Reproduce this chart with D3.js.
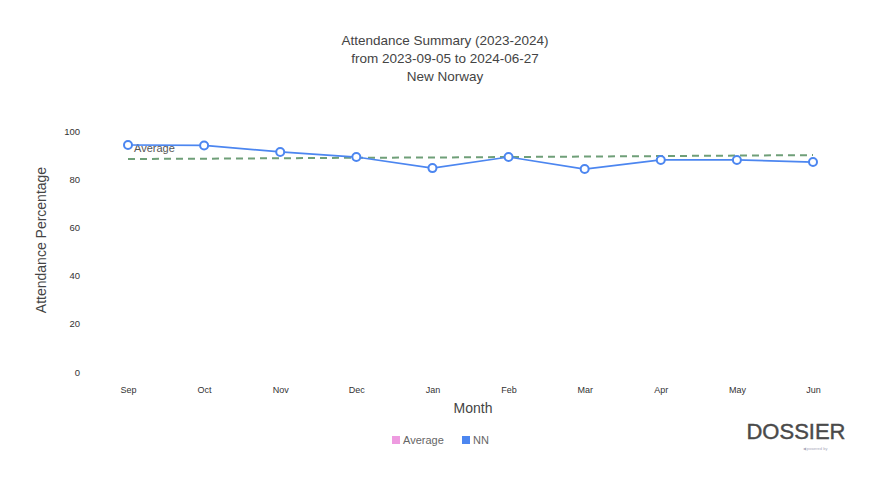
<!DOCTYPE html>
<html><head><meta charset="utf-8">
<script src="https://cdn.jsdelivr.net/npm/d3@7"></script>
<style>body{margin:0;background:#fff;font-family:Arial,"Liberation Sans",sans-serif;}</style>
</head><body><svg id="c" width="889" height="491"></svg>
<script>
const months = ["Sep","Oct","Nov","Dec","Jan","Feb","Mar","Apr","May","Jun"];
const nnValues = [94.2, 94.0, 91.3, 89.2, 84.6, 89.2, 84.2, 88.0, 88.0, 87.1];
const averageValues = [88.4, 88.5, 88.7, 88.9, 89.0, 89.2, 89.4, 89.6, 89.8, 90.0];
const yTicks = [0, 20, 40, 60, 80, 100];
const titleLines = ["Attendance Summary (2023-2024)", "from 2023-09-05 to 2024-06-27", "New Norway"];
const legendItems = [{name:"Average", color:"#ee9be0"}, {name:"NN", color:"#4c86f0"}];

const svg = d3.select("#c");
const x = d3.scalePoint().domain(months).range([128, 813]);
const y = d3.scaleLinear().domain([0, 100]).range([372, 131]);

// title
svg.append("g").selectAll("text").data(titleLines).join("text")
  .attr("x", 445).attr("y", (d,i)=>45 + i*18).attr("text-anchor","middle")
  .attr("font-size", 13.5).attr("fill", "#444").text(d=>d);

// y axis
const ya = svg.append("g").attr("transform","translate(82,0)")
  .call(d3.axisLeft(y).tickValues(yTicks).tickSize(0).tickPadding(2));
ya.select(".domain").remove();
ya.selectAll("text").attr("font-size",9.5).attr("fill","#333").attr("font-family","Arial, Liberation Sans, sans-serif");

// x axis
const xa = svg.append("g").attr("transform","translate(0,387)")
  .call(d3.axisBottom(x).tickSize(0).tickPadding(0));
xa.select(".domain").remove();
xa.selectAll("text").attr("font-size",9).attr("fill","#333").attr("font-family","Arial, Liberation Sans, sans-serif");

// axis titles
svg.append("text").attr("transform","translate(46,240) rotate(-90)").attr("text-anchor","middle")
  .attr("font-size",14).attr("fill","#444").text("Attendance Percentage");
svg.append("text").attr("x",473).attr("y",413).attr("text-anchor","middle")
  .attr("font-size",14).attr("fill","#444").text("Month");

// average dashed line
svg.append("path").datum(averageValues)
  .attr("d", d3.line().x((d,i)=>x(months[i])).y(d=>y(d)))
  .attr("fill","none").attr("stroke","#6f9f78").attr("stroke-width",2).attr("stroke-dasharray","7,5");
svg.append("text").attr("x",134).attr("y",152).attr("font-size",11).attr("fill","#555").text("Average");

// NN line
svg.append("path").datum(nnValues)
  .attr("d", d3.line().x((d,i)=>x(months[i])).y(d=>y(d)))
  .attr("fill","none").attr("stroke","#4c86f0").attr("stroke-width",1.7);
svg.append("g").selectAll("circle").data(nnValues).join("circle")
  .attr("cx",(d,i)=>x(months[i])).attr("cy",d=>y(d)).attr("r",4)
  .attr("fill","#fff").attr("stroke","#4c86f0").attr("stroke-width",2);

// legend
const lg = svg.append("g").attr("transform","translate(392,440)");
const lgx = [0, 70];
legendItems.forEach((it,i)=>{
  lg.append("rect").attr("x",lgx[i]).attr("y",-4).attr("width",8).attr("height",8).attr("fill",it.color);
  lg.append("text").attr("x",lgx[i]+11).attr("y",4).attr("font-size",11).attr("fill","#666").text(it.name);
});

// logo
svg.append("text").attr("x",796).attr("y",439).attr("text-anchor","middle")
  .attr("font-size",22).attr("fill","#4a4a4a").attr("stroke","#4a4a4a").attr("stroke-width",0.4).text("DOSSIER");
svg.append("text").attr("x",815).attr("y",450).attr("text-anchor","middle")
  .attr("font-size",4).attr("fill","#aab").text("◀ powered by");
</script></body></html>
